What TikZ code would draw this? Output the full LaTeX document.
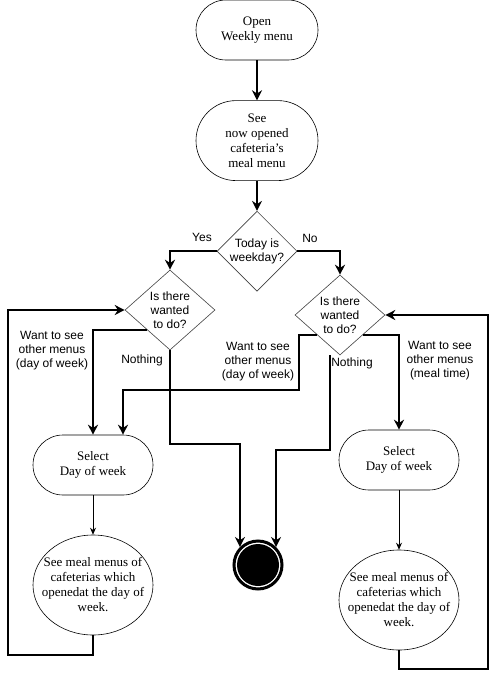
\documentclass[tikz,border=0pt]{standalone}
\usepackage{fontspec}
\setmainfont{Liberation Serif}
\newfontfamily\labelfont{Liberation Sans}
\usetikzlibrary{arrows.meta, positioning, shapes.geometric}

\begin{document}
\begin{tikzpicture}[x=1pt, y=-1pt, node distance=40pt,
    activity/.style={draw, rectangle, rounded corners=30pt, align=center, minimum width=122pt, minimum height=60pt, line width=0.6pt, font=\fontsize{13}{15}\selectfont},
    decision/.style={draw=black!75, diamond, minimum width=90pt, minimum height=80pt, inner sep=0pt, line width=0.6pt},
    outcome/.style={draw, ellipse, minimum width=120pt, minimum height=100pt, inner sep=0pt, line width=0.6pt},
    ask/.style={font=\labelfont\fontsize{12}{14}\selectfont, align=center},
    meal/.style={font=\fontsize{13}{15}\selectfont, align=center},
    flow/.style={-{Stealth[length=10pt, width=10pt]}, line width=2pt},
    thin flow/.style={-{Stealth[length=7pt, width=6pt]}, line width=0.8pt}]
    \useasboundingbox (0,0) rectangle (498,680);

    \node[activity] (open) at (257,30) {Open\\Weekly menu};
    \node[activity, minimum height=80pt, rounded corners=40pt, below=of open] (see) {See\\now opened\\cafeteria's\\meal menu};
    \node[decision, minimum width=80pt, below=30pt of see, label={[ask]center:{Today is\\weekday?}}] (today) {};
    \node[decision, label={[ask]center:{Is there\\wanted\\to do?}}] (ldec) at (170,310) {};
    \node[decision, label={[ask]center:{Is there\\wanted\\to do?}}] (rdec) at (340,315) {};
    \node[activity, minimum width=120pt] (lsel) at (93,465) {Select\\Day of week};
    \node[activity, minimum width=120pt] (rsel) at (399,460) {Select\\Day of week};
    \node[outcome, label={[meal]center:{See meal menus of\\cafeterias which\\openedat the day of\\week.}}] (lsee) at (93,585) {};
    \node[outcome, label={[meal]center:{See meal menus of\\cafeterias which\\openedat the day of\\week.}}] (rsee) at (399,600) {};
    \node[circle, draw, line width=3pt, minimum size=48pt, fill=white,
          path picture={\fill[black] (path picture bounding box.center) circle (21pt);}] (fin) at (258,565) {};

    % labels on the branches
    \node[ask] (yes) at (202,237) {Yes};
    \node[ask] (no) at (310,238) {No};
    \node[ask] (lwant) at (52,351) {Want to see\\other menus\\(day of week)};
    \node[ask] (lnothing) at (142,360) {Nothing};
    \node[ask] (mwant) at (258,362) {Want to see\\other menus\\(day of week)};
    \node[ask] (rnothing) at (352,363) {Nothing};
    \node[ask] (rwant) at (440,361) {Want to see\\other menus\\(meal time)};

    \draw[flow] (open) -- (see);
    \draw[flow] (see) -- (today);
    \draw[flow] (today.west) -| (ldec.north);
    \draw[flow] (today.east) -| (rdec.north);
    \draw[flow] (ldec.220) -| (lsel.north);
    \draw[flow] (ldec.south) -- ++(0,94) -| (fin.135);
    \draw[flow] (rdec.220) -- ++(-18,0) -- ++(0,55) -| ([xshift=30pt]lsel.north);
    \draw[flow] ([xshift=-10pt]rdec.south) -- ++(0,95) -| (fin.45);
    \draw[flow] (rdec.320) -| (rsel.north);
    \draw[thin flow] (lsel) -- (lsee);
    \draw[thin flow] (rsel) -- (rsee);
    \draw[flow] (lsee.south) -- ++(0,20) -- ++(-85,0) |- (ldec.west);
    \draw[flow] (rsee.south) -- ++(0,19) -- ++(89,0) |- (rdec.east);
\end{tikzpicture}
\end{document}
